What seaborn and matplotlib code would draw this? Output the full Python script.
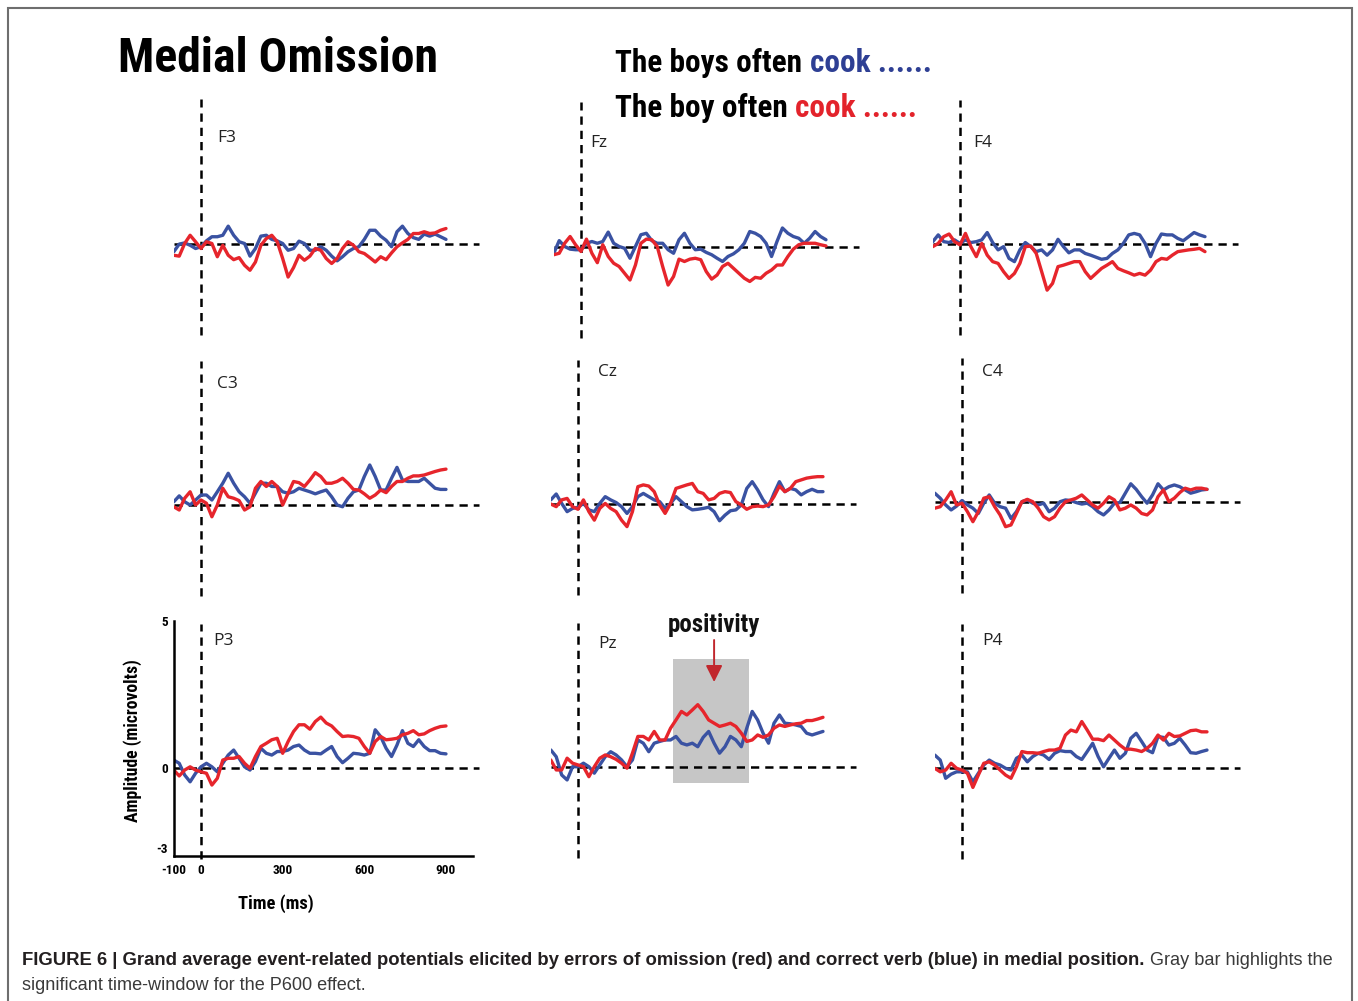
import os
import numpy as np
import pandas as pd
import matplotlib
matplotlib.use("Agg")
import matplotlib.pyplot as plt
from matplotlib import font_manager as fm
import seaborn as sns

# ---------------- data (µV, sampled every 20 ms from -100 to 900 ms) ----------------
times = list(range(-100, 901, 20))

F3_blue = [-0.28, -0.02, 0.02, -0.06, -0.17, -0.11,
           0.09, 0.23, 0.23, 0.28, 0.59, 0.28, 0.06, 0.0, -0.43, -0.17,
           0.25, 0.28, 0.14, 0.09, 0.0, -0.23, -0.17, 0.08, 0.0, -0.23,
           -0.23, -0.11, -0.23, -0.43, -0.59, -0.45, -0.28, -0.17, -0.11, 0.14,
           0.45, 0.45, 0.25, 0.11, -0.11, 0.40, 0.59, 0.34, 0.20, 0.14,
           0.32, 0.25, 0.32, 0.23, 0.14]
F3_red = [-0.40, -0.43, 0.0, 0.28, 0.06, -0.17,
          0.06, 0.0, -0.45, -0.06, -0.40, -0.55, -0.48, -0.74, -0.91, -0.63,
          -0.06, 0.17, 0.28, 0.06, -0.51, -1.14, -0.82, -0.40, -0.57, -0.43,
          -0.17, -0.23, -0.51, -0.68, -0.51, -0.17, 0.06, -0.06, -0.28, -0.34,
          -0.48, -0.63, -0.45, -0.55, -0.32, -0.11, 0.02, 0.14, 0.34, 0.34,
          0.40, 0.34, 0.36, 0.45, 0.51]
Fz_blue = [-0.23, 0.20, 0.0, -0.09, -0.11, -0.11,
           0.11, 0.17, 0.11, 0.17, 0.49, 0.11, 0.0, -0.06, -0.40, 0.0,
           0.40, 0.45, 0.20, 0.11, 0.11, -0.11, -0.23, 0.23, 0.45, 0.11,
           -0.11, -0.09, -0.20, -0.28, -0.40, -0.51, -0.34, -0.25, -0.11, 0.11,
           0.51, 0.45, 0.34, 0.11, -0.34, 0.17, 0.63, 0.45, 0.34, 0.28,
           0.11, 0.28, 0.51, 0.34, 0.23]
Fz_red = [-0.28, -0.23, 0.11, 0.34, 0.06, -0.17,
          0.25, -0.23, -0.55, 0.06, -0.34, -0.57, -0.68, -0.91, -1.14, -0.63,
          0.11, 0.25, 0.23, 0.0, -0.68, -1.31, -1.02, -0.43, -0.51, -0.43,
          -0.40, -0.45, -0.85, -1.11, -0.97, -0.68, -0.57, -0.74, -0.91, -1.08,
          -1.19, -1.05, -1.08, -0.91, -0.80, -0.63, -0.63, -0.34, -0.09, 0.06,
          0.11, 0.11, 0.11, 0.06, 0.02]
F4_blue = [0.08, 0.31, 0.08, 0.05, 0.14, 0.02,
           0.14, 0.05, 0.08, 0.14, 0.39, 0.05, -0.20, -0.09, -0.49, -0.60,
           -0.20, 0.05, -0.09, -0.26, -0.20, -0.38, -0.20, 0.16, -0.09, -0.30,
           -0.20, -0.20, -0.32, -0.38, -0.45, -0.52, -0.49, -0.32, -0.20, 0.02,
           0.31, 0.36, 0.31, 0.02, -0.43, 0.02, 0.34, 0.31, 0.31, 0.19,
           0.11, 0.25, 0.39, 0.31, 0.25]
F4_red = [-0.09, 0.02, 0.25, 0.34, 0.08, -0.03,
          0.36, -0.09, -0.43, 0.02, -0.38, -0.60, -0.66, -0.94, -1.17, -1.00,
          -0.66, -0.09, -0.07, -0.32, -0.94, -1.57, -1.34, -0.77, -0.72, -0.66,
          -0.60, -0.60, -0.94, -1.17, -1.00, -0.83, -0.72, -0.60, -0.83, -0.91,
          -0.98, -1.06, -1.00, -1.06, -0.89, -0.60, -0.49, -0.52, -0.38, -0.26,
          -0.23, -0.20, -0.18, -0.15, -0.26]
C3_blue = [0.11, 0.31, 0.11, 0.0, 0.17, 0.34,
           0.34, 0.17, 0.45, 0.74, 1.08, 0.74, 0.45, 0.28, 0.06, 0.40,
           0.74, 0.74, 0.63, 0.63, 0.45, 0.40, 0.45, 0.57, 0.51, 0.45,
           0.38, 0.45, 0.51, 0.28, 0.0, -0.06, 0.23, 0.45, 0.51, 0.97,
           1.36, 0.97, 0.51, 0.51, 0.91, 1.28, 0.85, 0.80, 0.80, 0.80,
           0.91, 0.74, 0.57, 0.53, 0.53]
C3_red = [-0.06, -0.17, 0.23, 0.45, 0.0, 0.17,
          0.06, -0.40, 0.0, 0.57, 0.28, 0.23, 0.15, -0.17, -0.06, 0.57,
          0.80, 0.63, 0.80, 0.63, 0.0, 0.40, 0.80, 0.76, 0.63, 0.85,
          1.10, 0.97, 0.74, 0.74, 0.80, 0.91, 0.74, 0.53, 0.51, 0.38,
          0.23, 0.34, 0.51, 0.42, 0.63, 0.80, 0.80, 0.91, 0.99, 0.99,
          1.02, 1.08, 1.14, 1.19, 1.22]
Cz_blue = [0.14, 0.34, 0.02, -0.26, -0.15, -0.11,
           0.02, -0.20, -0.26, 0.02, 0.25, 0.14, 0.05, -0.09, -0.32, -0.09,
           0.25, 0.36, 0.25, 0.14, 0.08, -0.15, 0.02, 0.25, 0.08, -0.09,
           -0.20, -0.18, -0.15, -0.11, -0.26, -0.57, -0.38, -0.23, -0.20, -0.03,
           0.53, 0.76, 0.48, 0.14, -0.09, 0.36, 0.76, 0.42, 0.53, 0.48,
           0.31, 0.42, 0.50, 0.42, 0.42]
Cz_red = [0.0, -0.09, 0.14, 0.19, -0.09, -0.18,
          0.14, -0.26, -0.55, -0.15, 0.02, -0.15, -0.26, -0.55, -0.77, -0.26,
          0.59, 0.65, 0.61, 0.42, -0.03, -0.32, 0.02, 0.53, 0.59, 0.65,
          0.70, 0.42, 0.36, 0.14, 0.19, 0.36, 0.42, 0.39, 0.08, -0.03,
          -0.18, -0.09, -0.07, -0.09, -0.03, 0.25, 0.61, 0.42, 0.53, 0.76,
          0.82, 0.88, 0.91, 0.93, 0.93]
C4_blue = [0.31, 0.14, -0.09, -0.26, -0.13, 0.06,
           -0.09, -0.20, -0.38, -0.03, 0.25, -0.03, -0.15, -0.20, -0.55, -0.32,
           0.02, 0.08, -0.03, -0.09, -0.03, -0.32, -0.20, 0.02, 0.08, 0.06,
           -0.01, -0.06, -0.03, -0.15, -0.32, -0.43, -0.26, -0.03, -0.01, 0.31,
           0.63, 0.44, 0.19, -0.03, 0.25, 0.63, 0.42, 0.53, 0.59, 0.53,
           0.42, 0.31, 0.36, 0.42, 0.44]
C4_red = [-0.20, -0.15, 0.08, 0.36, -0.09, -0.03,
          -0.32, -0.66, -0.32, 0.14, 0.19, -0.15, -0.43, -0.83, -0.77, -0.38,
          0.02, 0.10, 0.02, -0.20, -0.49, -0.60, -0.49, -0.20, 0.02, 0.08,
          0.14, 0.25, 0.08, -0.09, -0.20, -0.03, 0.19, 0.08, -0.26, -0.20,
          -0.09, -0.20, -0.38, -0.43, -0.26, 0.19, 0.42, 0.02, 0.14, 0.33,
          0.48, 0.42, 0.48, 0.48, 0.44]
P3_blue = [0.26, 0.15, -0.25, -0.48, -0.19, 0.03,
           0.15, 0.03, -0.14, 0.15, 0.43, 0.60, 0.32, 0.03, -0.08, 0.21,
           0.66, 0.49, 0.43, 0.55, 0.55, 0.60, 0.72, 0.77, 0.60, 0.49,
           0.49, 0.47, 0.60, 0.72, 0.38, 0.17, 0.32, 0.49, 0.47, 0.43,
           0.49, 1.29, 1.06, 0.66, 0.38, 0.77, 1.26, 0.83, 0.72, 0.95,
           0.72, 0.58, 0.58, 0.49, 0.47]
P3_red = [-0.08, -0.28, -0.08, 0.03, -0.08, -0.14,
          -0.19, -0.59, -0.36, 0.26, 0.32, 0.32, 0.38, 0.15, -0.02, 0.38,
          0.72, 0.83, 0.95, 1.00, 0.49, 0.89, 1.23, 1.46, 1.46, 1.31,
          1.57, 1.72, 1.52, 1.42, 1.23, 1.06, 1.08, 1.06, 1.00, 0.72,
          0.49, 0.89, 1.06, 0.95, 0.97, 1.00, 1.12, 1.17, 1.26, 1.12,
          1.15, 1.26, 1.34, 1.40, 1.42]
Pz_blue = [0.59, 0.36, -0.26, -0.43, 0.02, 0.02,
           0.14, 0.02, -0.20, 0.08, 0.36, 0.53, 0.42, 0.25, 0.02, 0.25,
           0.93, 0.82, 0.53, 0.82, 0.88, 0.93, 0.93, 1.05, 0.82, 0.76,
           0.82, 0.70, 1.02, 1.22, 0.82, 0.48, 0.70, 1.05, 0.93, 0.70,
           1.33, 1.90, 1.61, 1.16, 0.82, 1.50, 1.78, 1.50, 1.48, 1.44,
           1.39, 1.16, 1.10, 1.16, 1.22]
Pz_red = [0.25, -0.09, -0.09, 0.31, 0.14, 0.08,
          0.02, -0.32, 0.02, 0.31, 0.42, 0.36, 0.27, 0.14, -0.03, 0.48,
          1.05, 1.05, 0.93, 1.22, 0.93, 0.93, 1.33, 1.61, 1.90, 1.78,
          1.95, 2.13, 1.90, 1.61, 1.50, 1.39, 1.44, 1.50, 1.39, 1.16,
          0.88, 0.93, 1.10, 1.02, 1.10, 1.33, 1.44, 1.39, 1.44, 1.48,
          1.50, 1.59, 1.59, 1.64, 1.70]
P4_blue = [0.43, 0.26, -0.36, -0.22, -0.14, -0.14,
           -0.14, -0.48, -0.19, 0.09, 0.26, 0.15, 0.09, -0.02, -0.08, 0.32,
           0.43, 0.20, 0.38, 0.49, 0.43, 0.28, 0.49, 0.58, 0.55, 0.55,
           0.38, 0.28, 0.55, 0.83, 0.38, 0.03, 0.32, 0.60, 0.32, 0.49,
           1.00, 1.17, 0.89, 0.60, 0.51, 1.06, 1.03, 0.77, 0.83, 1.00,
           0.77, 0.51, 0.49, 0.55, 0.60]
P4_red = [-0.02, -0.14, -0.08, 0.15, -0.02, -0.08,
          -0.19, -0.67, -0.25, 0.15, 0.20, 0.09, -0.08, -0.25, -0.36, 0.03,
          0.55, 0.51, 0.51, 0.49, 0.55, 0.60, 0.60, 0.66, 1.11, 1.28,
          1.22, 1.57, 1.28, 0.97, 0.97, 0.92, 1.11, 0.94, 0.77, 0.63,
          0.63, 0.60, 0.55, 0.66, 0.83, 1.11, 0.94, 1.17, 1.06, 1.08,
          1.17, 1.26, 1.28, 1.22, 1.22]

electrodes = ["F3", "Fz", "F4", "C3", "Cz", "C4", "P3", "Pz", "P4"]
conditions = ["correct", "omission"]
series = {
    ("F3", "correct"): F3_blue, ("F3", "omission"): F3_red,
    ("Fz", "correct"): Fz_blue, ("Fz", "omission"): Fz_red,
    ("F4", "correct"): F4_blue, ("F4", "omission"): F4_red,
    ("C3", "correct"): C3_blue, ("C3", "omission"): C3_red,
    ("Cz", "correct"): Cz_blue, ("Cz", "omission"): Cz_red,
    ("C4", "correct"): C4_blue, ("C4", "omission"): C4_red,
    ("P3", "correct"): P3_blue, ("P3", "omission"): P3_red,
    ("Pz", "correct"): Pz_blue, ("Pz", "omission"): Pz_red,
    ("P4", "correct"): P4_blue, ("P4", "omission"): P4_red,
}
p600_window = [350, 630]          # ms
p600_band = [-0.55, 3.68]         # µV extent of the gray bar
x_tick_labels = [-100, 0, 300, 600, 900]
y_tick_labels = [-3, 0, 5]

rows = []
for (el, cond), vals in series.items():
    assert len(vals) == len(times), (el, cond, len(vals))
    for t, v in zip(times, vals):
        rows.append({"electrode": el, "condition": cond, "time": t, "amp": v})
df = pd.DataFrame(rows)

# ---------------- style ----------------
sns.set_theme(style="white")
plt.rcParams["font.family"] = ["DejaVu Sans"]
plt.rcParams["axes.unicode_minus"] = False


def condensed_bold():
    prefs = ["NotoSans-ExtraCondensedBold", "NotoSans-CondensedBold",
             "OpenSans-CondensedBold", "OpenSans_Condensed-Bold",
             "RobotoCondensed-Bold", "LiberationSansNarrow-Bold",
             "NotoSans-SemiCondensedBold", "DejaVuSansCondensed-Bold"]
    files = {}
    for f in fm.fontManager.ttflist:
        files.setdefault(os.path.splitext(os.path.basename(f.fname))[0], f.fname)
    for p in prefs:
        if p in files:
            return fm.FontProperties(fname=files[p])
    return fm.FontProperties(family="DejaVu Sans", weight="bold", stretch="condensed")


CB = condensed_bold()
BLUE = "#3a52a2"
RED = "#e6252c"
palette = {"correct": BLUE, "omission": RED}

W, H = 1358, 1001
KX, KY = 0.2722, 29.4   # px per ms, px per µV
fig = plt.figure(figsize=(W / 100, H / 100), dpi=100)
fig.patch.set_facecolor("white")

# background layer in pixel coordinates
bg = fig.add_axes([0, 0, 1, 1])
bg.set_xlim(0, W)
bg.set_ylim(H, 0)
bg.set_axis_off()
bg.plot([8, 8, 1352, 1352], [1001, 8, 8, 1001], color="#6e6e6e", lw=1.5,
        solid_joinstyle="miter")

# panel origins (pixel position of t=0, 0 µV) and label positions
origin = {"F3": (201, 243.5), "Fz": (581, 246.5), "F4": (960, 244),
          "C3": (201, 505), "Cz": (578, 504), "C4": (962, 502.3),
          "P3": (201, 767.7), "Pz": (578, 767.3), "P4": (962, 767.7)}
label_pos = {"F3": (217, 138), "Fz": (590, 143), "F4": (973, 143),
             "C3": (217, 384), "Cz": (598, 372), "C4": (982, 372),
             "P3": (213, 641), "Pz": (598, 644), "P4": (982, 641)}

DASH = (0, (3.3, 2.4))
axes = {}
for el in electrodes:
    x0, y0 = origin[el]
    rect = [(x0 - 100 * KX) / W, 1 - (y0 + 3 * KY) / H, 1100 * KX / W, 8 * KY / H]
    ax = fig.add_axes(rect)
    ax.set_facecolor("none")
    sub = df[df["electrode"] == el]
    if el == "Pz":
        ax.fill_between(p600_window, p600_band[0], p600_band[1], color="#c6c6c6",
                        lw=0, zorder=0.5)
    ax.plot([-100, 1020], [0, 0], color="black", lw=1.8, ls=DASH, clip_on=False, zorder=1)
    ax.plot([0, 0], [-3.1, 4.9], color="black", lw=1.8, ls=DASH, clip_on=False, zorder=1)
    sns.lineplot(data=sub, x="time", y="amp", hue="condition", hue_order=conditions,
                 palette=palette, linewidth=2.4, legend=False, errorbar=None,
                 ax=ax, zorder=2, solid_joinstyle="round", solid_capstyle="round")
    ax.set_xlim(-100, 1000)
    ax.set_ylim(-3, 5)
    ax.set_xlabel("")
    ax.set_ylabel("")
    if el != "P3":
        ax.set_axis_off()
    axes[el] = ax
    lx, ly = label_pos[el]
    bg.text(lx, ly, el, family="Open Sans", fontsize=12.5, color="#222222",
            ha="left", va="center")

# P3 carries the axes
ax = axes["P3"]
sns.despine(ax=ax, top=True, right=True)
for s in ("left", "bottom"):
    ax.spines[s].set_color("black")
    ax.spines[s].set_linewidth(1.8)
ax.set_xticks(x_tick_labels)
ax.set_xticks([100, 200, 400, 500, 700, 800, 1000], minor=True)
ax.set_yticks(y_tick_labels)
ax.set_yticks([-2, -1, 1, 2, 3, 4], minor=True)
ax.tick_params(which="both", direction="in", length=3, width=2, color="black")
ax.tick_params(axis="x", which="major", pad=5.5)
ax.tick_params(axis="y", which="major", pad=4)
ax.set_xlabel("Time (ms)", fontproperties=CB, fontsize=14, color="black")
ax.xaxis.set_label_coords(0.34, -0.165)
ax.set_ylabel("Amplitude (microvolts)", fontproperties=CB, fontsize=13, color="black")
ax.yaxis.set_label_coords(-0.105, 0.49)

# Pz annotation
axz = axes["Pz"]
axz.annotate("", xy=(500, 2.9), xytext=(500, 4.33),
             arrowprops=dict(arrowstyle="-|>,head_length=0.5,head_width=0.25",
                             color="#c1272d", lw=1.4, mutation_scale=20,
                             shrinkA=0, shrinkB=0),
             annotation_clip=False)
pos_txt = bg.text(714, 632, "positivity", fontproperties=CB, fontsize=18,
                  ha="center", va="baseline", color="#111111")

# titles
title = bg.text(118, 72, "Medial Omission", fontproperties=CB, fontsize=35,
                ha="left", va="baseline", color="black")
t1 = bg.text(615, 72, "The boys often", fontproperties=CB, fontsize=25,
             ha="left", va="baseline", color="black")
a1 = bg.annotate("cook ......", xy=(1, 0), xycoords=t1, xytext=(6, 0),
                 textcoords="offset points", fontproperties=CB, fontsize=25,
                 ha="left", va="bottom", color="#2e3f94")
t2 = bg.text(615, 117, "The boy often", fontproperties=CB, fontsize=25,
             ha="left", va="baseline", color="black")
a2 = bg.annotate("cook ......", xy=(1, 0), xycoords=t2, xytext=(6, 0),
                 textcoords="offset points", fontproperties=CB, fontsize=25,
                 ha="left", va="bottom", color="#e3232b")

# caption
CAP = ["Liberation Sans", "DejaVu Sans"]
c1 = bg.text(22, 965, "FIGURE 6 | Grand average event-related potentials elicited by errors "
             "of omission (red) and correct verb (blue) in medial position.",
             family=CAP, fontsize=13.35, fontweight="bold",
             ha="left", va="baseline", color="#231f20")
bg.annotate("Gray bar highlights the", xy=(1, 0), xycoords=c1, xytext=(4, 0),
            textcoords="offset points", family=CAP,
            fontsize=13.1, ha="left", va="bottom", color="#3a3a3a")
bg.text(22, 990, "significant time-window for the P600 effect.", family=CAP,
        fontsize=13.1, ha="left", va="baseline", color="#3a3a3a")

# ---- fit condensed-bold texts to the widths they take in the reference ----
fig.canvas.draw()
rend = fig.canvas.get_renderer()


def fit(txt, target_px):
    bb = txt.get_window_extent(rend)
    txt.set_fontsize(txt.get_fontsize() * target_px / max(bb.width, bb.height))


fit(title, 320)
fit(pos_txt, 92)
fit(ax.xaxis.label, 76)
fit(ax.yaxis.label, 162)
# subtitle line: whole "The boys often cook ......" spans 317 px
w_line = a1.get_window_extent(rend).x1 - t1.get_window_extent(rend).x0
k = 317.0 / w_line
for t in (t1, a1, t2, a2):
    t.set_fontsize(t.get_fontsize() * k)
for a in (a1, a2):
    a.xyann = (6 * k, 0)
for lab in ax.get_xticklabels() + ax.get_yticklabels():
    lab.set_fontproperties(CB)
    lab.set_fontsize(9.5)
    lab.set_color("black")
# lift the lowest y label slightly so it clears the x labels
ax.get_yticklabels()[0].set_va("bottom")

fig.savefig("out.png", dpi=100, facecolor="white")
